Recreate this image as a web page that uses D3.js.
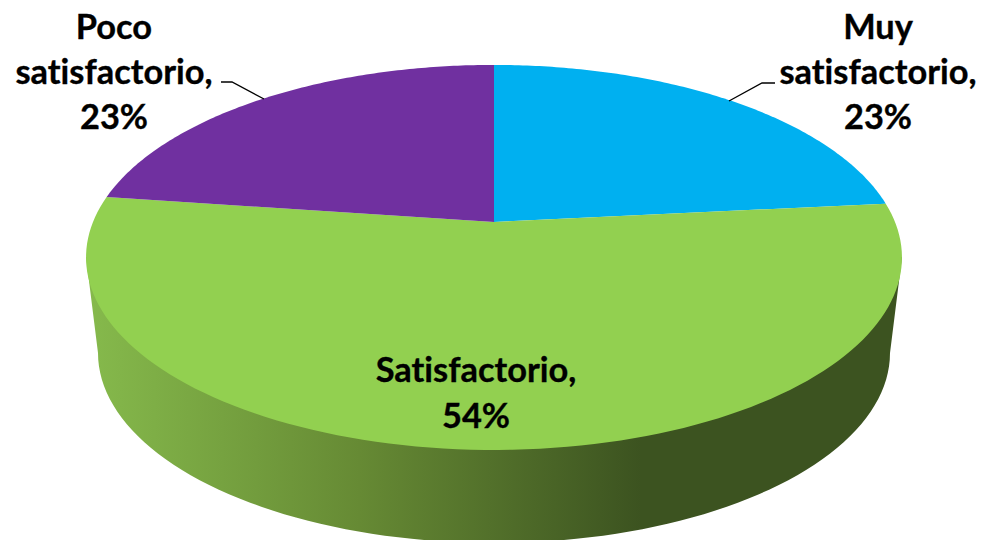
<!DOCTYPE html>
<html><head><meta charset="utf-8">
<style>html,body{margin:0;padding:0;background:#fff}svg{display:block}text{font-family:Lato,"Open Sans",sans-serif;font-weight:700;fill:#000;stroke:#000;stroke-width:.35px;font-variant-ligatures:none}</style>
<script src="https://cdn.jsdelivr.net/npm/d3@7"></script>
</head><body><svg id="c" width="981" height="540"></svg>
<script>
const categories = ["Muy satisfactorio", "Satisfactorio", "Poco satisfactorio"];
const values = [23.4, 53.8, 22.8];
const colors = ["#00b0f0", "#92d050", "#7030a0"];
const labelLines = [["Muy", "satisfactorio,"], ["Satisfactorio,"], ["Poco", "satisfactorio,"]];

const W = 981, H = 540;
const svg = d3.select("#c").attr("viewBox", [0, 0, W, H]);

// perspective projection of the unit disc onto the tilted pie top
const cx = 494, apexY = 222, k = -0.184, bY = 186, aX = 401;
const project = (t, r = 1) => {
  const x = r * Math.sin(t), y = -r * Math.cos(t), d = 1 + k * y;
  return [cx + aX * x / d, apexY + bY * y / d];
};
const line = d3.line();

// rim gradient
const defs = svg.append("defs");
const grad = defs.append("linearGradient").attr("id", "rim").attr("gradientUnits", "userSpaceOnUse")
  .attr("x1", 86).attr("x2", 902).attr("y1", 0).attr("y2", 0);
[[0, "#86ba4c"], [0.335, "#668a34"], [0.68, "#3c5320"], [1, "#3c5320"]].forEach(([o, c]) =>
  grad.append("stop").attr("offset", o).attr("stop-color", c));

// rim: lower ellipse plus the silhouette joining it to the top face
const pie = d3.pie().value(d => d).sort(null).startAngle(0).endAngle(2 * Math.PI);
const arcs = pie(values);
const lowCx = 494, lowCy = 353, lowRx = 396, lowRy = 190;
const lowArc = d3.range(0, 181, 2).map(a => {
  const r = a * Math.PI / 180;
  return [lowCx + lowRx * Math.cos(r), lowCy + lowRy * Math.sin(r)];
});
svg.append("path")
  .attr("d", line([[902, 257], ...lowArc, [86, 257]]) + "Z")
  .attr("fill", "url(#rim)");

// top face slices
const steps = 120;
svg.append("g").selectAll("path").data(arcs).join("path")
  .attr("d", d => {
    const pts = d3.range(steps + 1).map(i => project(d.startAngle + (d.endAngle - d.startAngle) * i / steps));
    return line([[cx, apexY], ...pts]) + "Z";
  })
  .attr("fill", (d, i) => colors[i]);

// leader lines
const leaders = [[[729, 101], [762, 83], [775, 83]], null, [[264, 99], [232, 82], [221, 82]]];
svg.append("g").selectAll("path").data(leaders.filter(Boolean)).join("path")
  .attr("d", d => line(d)).attr("fill", "none").attr("stroke", "#000").attr("stroke-width", 1.3);

// labels
const anchors = [[878, 39], [476, 382], [114, 39]];
const spacing = [45, 46, 45];
const fs = 34.4;
arcs.forEach((d, i) => {
  const lines = [...labelLines[i], d3.format(".0f")(d.value) + "%"];
  const t = svg.append("text").attr("text-anchor", "middle").attr("font-size", fs);
  lines.forEach((s, j) => t.append("tspan").attr("x", anchors[i][0]).attr("y", anchors[i][1] + j * spacing[i]).text(s));
});
</script></body></html>
